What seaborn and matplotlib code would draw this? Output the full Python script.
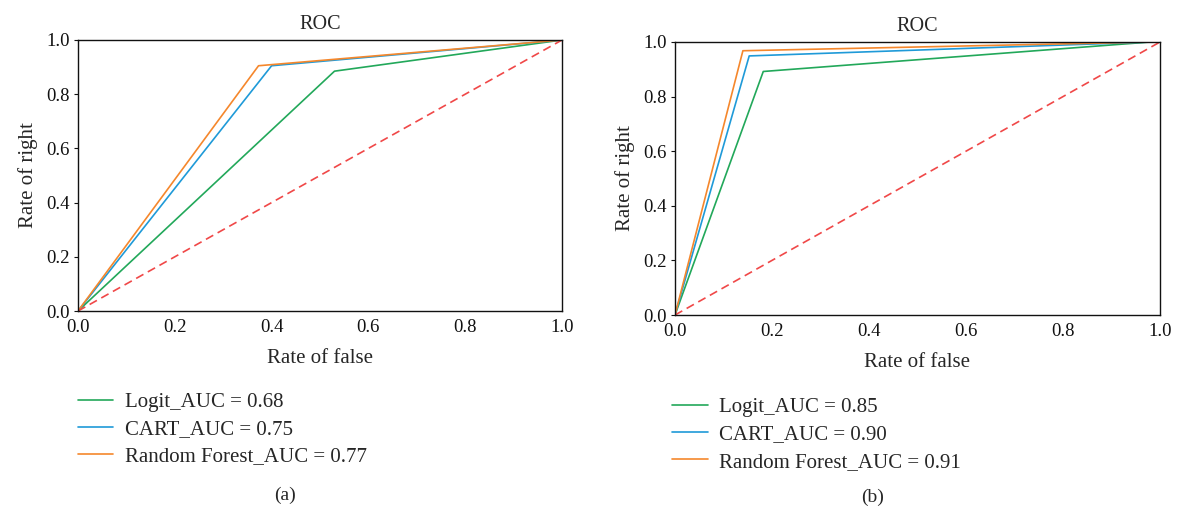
import numpy as np
import pandas as pd
import matplotlib
matplotlib.use('Agg')
import matplotlib.pyplot as plt
import seaborn as sns

# ROC points
models = ['Logit', 'CART', 'Random Forest']

fpr_a = {'Logit': [0.0, 0.53, 1.0],
         'CART': [0.0, 0.40, 1.0],
         'Random Forest': [0.0, 0.373, 1.0]}
tpr_a = {'Logit': [0.0, 0.885, 1.0],
         'CART': [0.0, 0.905, 1.0],
         'Random Forest': [0.0, 0.905, 1.0]}
auc_a = {'Logit': 0.68, 'CART': 0.75, 'Random Forest': 0.77}

fpr_b = {'Logit': [0.0, 0.182, 0.98],
         'CART': [0.0, 0.153, 0.98],
         'Random Forest': [0.0, 0.14, 0.98]}
tpr_b = {'Logit': [0.0, 0.892, 1.0],
         'CART': [0.0, 0.949, 1.0],
         'Random Forest': [0.0, 0.968, 1.0]}
auc_b = {'Logit': 0.85, 'CART': 0.90, 'Random Forest': 0.91}

ticks = [0.0, 0.2, 0.4, 0.6, 0.8, 1.0]
colors = {'Logit': '#22a85a', 'CART': '#1f9ad8', 'Random Forest': '#f5872c'}

sns.set_theme(style='white')
plt.rcParams['font.family'] = ['Liberation Serif', 'DejaVu Serif']


def make_df(fpr, tpr, auc):
    rows = []
    for m in models:
        label = '{}_AUC = {:.2f}'.format(m, auc[m])
        for x, y in zip(fpr[m], tpr[m]):
            rows.append({'fpr': x, 'tpr': y, 'model': label})
    return pd.DataFrame(rows)


def draw_panel(ax, fpr, tpr, auc, leg_pos):
    df = make_df(fpr, tpr, auc)
    pal = {'{}_AUC = {:.2f}'.format(m, auc[m]): colors[m] for m in models}
    sns.lineplot(data=df, x='fpr', y='tpr', hue='model', palette=pal,
                 sort=False, estimator=None, linewidth=1.2, ax=ax)
    ax.plot([0, 1], [0, 1], linestyle='--', color='#f04848', linewidth=1.2,
            dashes=(5, 3))
    ax.set_xlim(0, 1)
    ax.set_ylim(0, 1)
    ax.set_xticks(ticks)
    ax.set_yticks(ticks)
    ax.set_xticklabels(['{:.1f}'.format(t) for t in ticks], fontsize=13.5)
    ax.set_yticklabels(['{:.1f}'.format(t) for t in ticks], fontsize=13.5)
    ax.tick_params(axis='x', length=0, pad=6, colors='#111111')
    ax.tick_params(axis='y', length=3, width=0.8, pad=3, colors='#111111', left=True)
    ax.set_xlabel('Rate of false', fontsize=15, labelpad=9)
    ax.set_ylabel('Rate of right', fontsize=15, labelpad=6)
    ax.set_title('ROC', fontsize=14.5, pad=8)
    for s in ax.spines.values():
        s.set_color('#111111')
        s.set_linewidth(1.0)
    ax.legend(loc='upper left', bbox_to_anchor=leg_pos, frameon=False,
              fontsize=15, handlelength=1.7, handletextpad=0.55,
              labelspacing=0.37, borderaxespad=0, borderpad=0)


fig = plt.figure(figsize=(11.84, 5.14), dpi=100)
ax1 = fig.add_axes([78 / 1184, 1 - 311 / 514, 484 / 1184, 271 / 514])
ax2 = fig.add_axes([675 / 1184, 1 - 315 / 514, 485 / 1184, 273 / 514])

draw_panel(ax1, fpr_a, tpr_a, auc_a, (0.0, -0.30))
draw_panel(ax2, fpr_b, tpr_b, auc_b, (-0.006, -0.302))

fig.text(285 / 1184, 1 - 495 / 514, '(a)', ha='center', va='center', fontsize=14)
fig.text(873 / 1184, 1 - 497 / 514, '(b)', ha='center', va='center', fontsize=14)

fig.savefig('out.png', dpi=100)
